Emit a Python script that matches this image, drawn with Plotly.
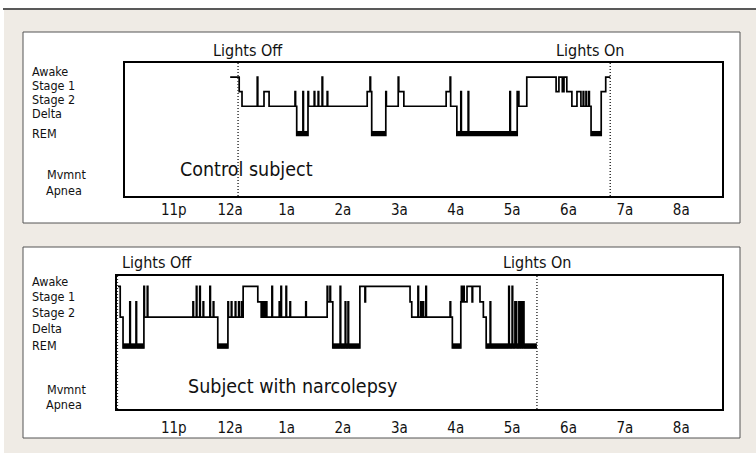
import plotly.graph_objects as go

W, H = 756, 455

# ---------------- data ----------------
STAGE = {"W": 5, "S1": 4, "S2": 3, "D": 2, "R": 1}

tick_hours = [23, 24, 25, 26, 27, 28, 29, 30, 31, 32]
tick_text = ["11p", "12a", "1a", "2a", "3a", "4a", "5a", "6a", "7a", "8a"]
stage_labels = ["Awake", "Stage 1", "Stage 2", "Delta", "REM"]
event_labels = ["Mvmnt", "Apnea"]

# clock hours (24 = midnight) at which each epoch begins
control_time = [24.00, 24.16, 24.21, 24.48, 24.49, 24.60, 24.69, 25.15, 25.16, 25.18,
                25.29, 25.30, 25.38, 25.39, 25.49, 25.50, 25.56, 25.57, 25.63, 25.64,
                25.72, 25.73, 26.43, 26.48, 26.49, 26.51, 26.76, 26.77, 26.98, 26.99,
                27.08, 27.83, 27.90, 27.91, 28.02, 28.09, 28.10, 28.22, 28.23, 28.96,
                28.97, 29.09, 29.12, 29.26, 29.78, 29.83, 29.89, 29.92, 29.97, 30.06,
                30.15, 30.22, 30.26, 30.27, 30.31, 30.32, 30.36, 30.37, 30.40,
                30.58, 30.66]
control_stage = ["W", "S1", "S2", "W", "S2", "S1", "S2", "S1", "S2", "R",
                 "S1", "R", "S1", "S2", "S1", "S2", "S1", "S2", "W", "S2",
                 "S1", "S2", "S1", "W", "S1", "R", "S1", "S2", "W", "S1",
                 "S2", "S1", "W", "S2", "R", "S1", "R", "S1", "R", "S1",
                 "R", "S1", "S2", "W", "S1", "W", "S1", "W", "S1", "S2",
                 "S1", "S2", "S1", "S2", "S1", "S2", "S1", "S2", "R",
                 "S1", "W"]
control_end = 30.74
control_lights = [24.14, 30.74]

narco_time = [22.01, 22.05, 22.10, 22.22, 22.23, 22.33, 22.34, 22.47, 22.48, 22.53,
              22.54, 23.34, 23.35, 23.40, 23.41, 23.46, 23.47, 23.52, 23.53, 23.64,
              23.65, 23.70, 23.71, 23.78, 23.96, 23.97, 24.02, 24.03, 24.09, 24.10,
              24.15, 24.16, 24.20, 24.21, 24.23, 24.49, 24.55, 24.57, 24.58, 24.60,
              24.61, 24.64, 24.65, 24.74, 24.75, 24.87, 24.88, 24.90, 24.91, 24.99,
              25.00, 25.06, 25.07, 25.34, 25.35, 25.72, 25.73, 25.77, 25.78, 25.82,
              25.95, 25.96, 26.04, 26.05, 26.09, 26.10, 26.30, 26.39, 26.40, 27.19,
              27.22, 27.33, 27.34, 27.38, 27.39, 27.42, 27.43, 27.47, 27.48, 27.90,
              27.91, 27.94, 28.09, 28.10, 28.11, 28.14, 28.15, 28.20, 28.29, 28.30,
              28.43, 28.49, 28.54, 28.61, 28.62, 28.94, 28.95, 29.00, 29.01, 29.05,
              29.08, 29.12, 29.13, 29.16, 29.17, 29.20, 29.21]
narco_stage = ["W", "S2", "R", "S1", "R", "S1", "R", "W", "S2", "W",
               "S2", "S1", "S2", "W", "S2", "W", "S2", "S1", "S2", "W",
               "S2", "S1", "S2", "R", "S1", "S2", "S1", "S2", "S1", "S2",
               "S1", "S2", "S1", "S2", "W", "S1", "S2", "S1", "S2", "S1",
               "S2", "S1", "S2", "W", "S2", "S1", "S2", "W", "S2", "W",
               "S2", "S1", "S2", "S1", "S2", "W", "S1", "W", "S1", "R",
               "W", "R", "S1", "R", "S1", "R", "W", "S1", "W", "S1",
               "S2", "W", "S2", "S1", "S2", "S1", "S2", "W", "S2", "S1",
               "S2", "R", "S1", "W", "S1", "W", "S1", "W", "S1", "W",
               "S1", "S2", "R", "S1", "R", "W", "R", "W", "R", "S1",
               "R", "S1", "R", "S1", "R", "S1", "R"]
narco_end = 29.44
narco_lights = [22.00, 29.44]

panel_titles = ["Control subject", "Subject with narcolepsy"]

# ---------------- layout constants (pixels) ----------------
FONT = "DejaVu Sans Condensed, Liberation Sans Narrow, Arial Narrow, sans-serif"
BEIGE = "#efebe5"


def px(x):
    return x / W


def py(y):
    return 1 - y / H


panels = [
    dict(t=control_time, s=control_stage, end=control_end, lights=control_lights,
         xa="x", ya="y", box=(23, 32, 740, 223),
         stage_y=[71, 85, 99, 113, 133], event_y=[175, 190],
         lights_text_y=50, lights_shift=[10, -20],
         title_xy=(246, 169)),
    dict(t=narco_time, s=narco_stage, end=narco_end, lights=narco_lights,
         xa="x2", ya="y2", box=(23, 247, 740, 438),
         stage_y=[281, 296, 312, 328, 345], event_y=[389, 404],
         lights_text_y=262, lights_shift=[40, 0],
         title_xy=(292, 386)),
]

fig = go.Figure()
shapes = []
annotations = []

# background decoration
shapes.append(dict(type="rect", xref="paper", yref="paper", x0=px(4), x1=1, y0=py(453), y1=py(10),
                   fillcolor=BEIGE, line=dict(width=0), layer="below"))
shapes.append(dict(type="line", xref="paper", yref="paper", x0=px(3), x1=1, y0=py(9), y1=py(9),
                   line=dict(color="#222", width=1.5), layer="below"))

for i, p in enumerate(panels):
    x0, y0, x1, y1 = p["box"]
    shapes.append(dict(type="rect", xref="paper", yref="paper", x0=px(x0), x1=px(x1),
                       y0=py(y1), y1=py(y0), fillcolor="white",
                       line=dict(color="#555", width=1), layer="below"))

    xs = list(p["t"]) + [p["end"]]
    ys = [STAGE[k] for k in p["s"]] + [STAGE[p["s"][-1]]]
    fig.add_trace(go.Scatter(x=xs, y=ys, mode="lines", line=dict(color="black", width=1.7, shape="hv"),
                             xaxis=p["xa"], yaxis=p["ya"], showlegend=False, hoverinfo="skip"))

    # thick REM bars
    bx, by = [], []
    for j, k in enumerate(p["s"]):
        if k == "R":
            t0 = p["t"][j]
            t1 = p["t"][j + 1] if j + 1 < len(p["t"]) else p["end"]
            bx += [t0, t1, None]
            by += [STAGE["R"] + 0.14, STAGE["R"] + 0.14, None]
    fig.add_trace(go.Scatter(x=bx, y=by, mode="lines", line=dict(color="black", width=5),
                             xaxis=p["xa"], yaxis=p["ya"], showlegend=False, hoverinfo="skip"))

    # lights off / on
    for k, (lt, txt) in enumerate(zip(p["lights"], ["Lights Off", "Lights On"])):
        shapes.append(dict(type="line", xref=p["xa"], yref=p["ya"] + " domain", x0=lt, x1=lt, y0=0, y1=1,
                           line=dict(color="#333", width=1.5, dash="1px,2px")))
        annotations.append(dict(x=lt, xref=p["xa"], y=py(p["lights_text_y"]), yref="paper",
                                text=txt, showarrow=False, xanchor="center", yanchor="middle",
                                xshift=p["lights_shift"][k], font=dict(family=FONT, size=16, color="#111")))

    # stage labels
    for lab, yy in zip(stage_labels, p["stage_y"]):
        annotations.append(dict(x=px(30), xref="paper", y=py(yy), yref="paper", text=lab,
                                showarrow=False, xanchor="left", yanchor="middle",
                                font=dict(family=FONT, size=12.5, color="#111")))
    for lab, yy, xx in zip(event_labels, p["event_y"], [45, 44]):
        annotations.append(dict(x=px(xx), xref="paper", y=py(yy), yref="paper", text=lab,
                                showarrow=False, xanchor="left", yanchor="middle",
                                font=dict(family=FONT, size=12.5, color="#111")))

    tx, ty = p["title_xy"]
    annotations.append(dict(x=px(tx), xref="paper", y=py(ty), yref="paper", text=panel_titles[i],
                            showarrow=False, xanchor="center", yanchor="middle",
                            font=dict(family=FONT, size=19.5, color="#111")))

axis_common = dict(showline=True, mirror=True, linecolor="black", linewidth=1.5,
                   showgrid=False, zeroline=False, ticks="", fixedrange=True)

fig.update_layout(
    width=W, height=H, margin=dict(l=0, r=0, t=0, b=0),
    paper_bgcolor="white", plot_bgcolor="rgba(0,0,0,0)",
    font=dict(family=FONT, color="#111"),
    xaxis=dict(domain=[px(125), px(722)], range=[22.135, 32.722], anchor="y",
               tickvals=tick_hours, ticktext=tick_text, tickfont=dict(family=FONT, size=15),
               ticklabelstandoff=-1, **axis_common),
    yaxis=dict(domain=[py(196), py(63)], range=[-3.14, 5.96], anchor="x",
               showticklabels=False, **axis_common),
    xaxis2=dict(domain=[px(117), px(722)], range=[21.993, 32.722], anchor="y2",
                tickvals=tick_hours, ticktext=tick_text, tickfont=dict(family=FONT, size=15),
                ticklabelstandoff=4, **axis_common),
    yaxis2=dict(domain=[py(409), py(276)], range=[-2.97, 5.68], anchor="x2",
                showticklabels=False, **axis_common),
    shapes=shapes, annotations=annotations,
)

fig.write_html("out.html", config={"displayModeBar": False},
               post_script="document.body.style.margin='0';")
